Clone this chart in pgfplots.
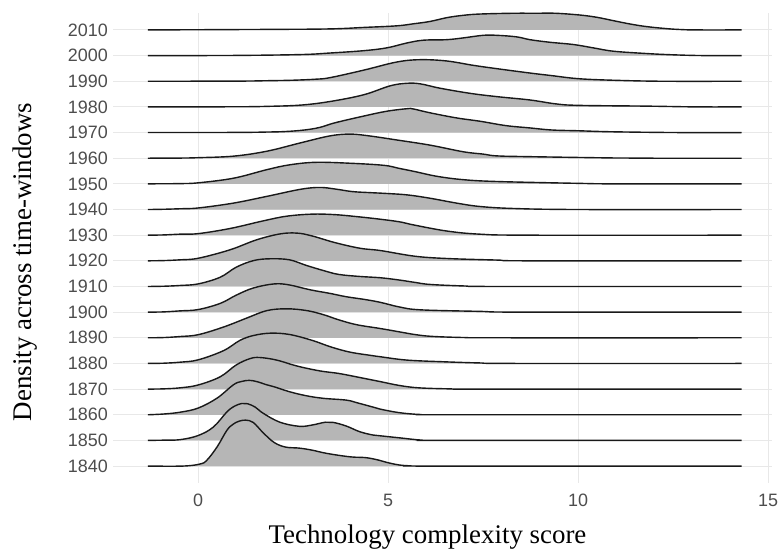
\documentclass[border=0pt]{standalone}
\usepackage{pgfplots}
\pgfplotsset{compat=1.18}
\usepackage{pgfplotstable}
\usepackage{fontspec}
\setmainfont{Liberation Sans}
\newfontfamily\titlefont{Liberation Serif}

\definecolor{ridgefill}{RGB}{182,182,182}
\definecolor{gridgray}{RGB}{232,232,232}
\definecolor{ticktext}{RGB}{77,77,77}

% density estimates per time window: x = complexity score, h = ridge height
\pgfplotstableread{
x h
-1.32 0
-0.4 0
0.05 0.08
0.23 0.23
0.5 0.75
0.76 1.4
0.93 1.64
1.08 1.75
1.25 1.79
1.45 1.7
1.71 1.3
2.0 0.92
2.3 0.74
2.66 0.7
3.0 0.62
3.4 0.49
4.0 0.36
4.4 0.33
4.7 0.25
5.0 0.13
5.3 0.04
5.6 0.01
6.2 0
14.3 0
}\tabA
\pgfplotstableread{
x h
-1.32 0
-0.9 0.01
-0.47 0.03
0 0.19
0.4 0.52
0.75 1.1
0.95 1.33
1.15 1.44
1.3 1.43
1.5 1.3
1.71 1.06
2.15 0.71
2.66 0.55
3.0 0.6
3.35 0.71
3.56 0.7
3.9 0.56
4.25 0.34
4.6 0.21
4.79 0.18
5.3 0.1
5.9 0.01
6.5 0
14.3 0
}\tabB
\pgfplotstableread{
x h
-1.32 0
-0.9 0.03
-0.47 0.1
0 0.26
0.5 0.65
0.93 1.17
1.15 1.3
1.35 1.34
1.55 1.29
1.8 1.17
2.0 1.09
2.4 0.9
2.85 0.74
3.3 0.64
3.9 0.57
4.2 0.46
4.6 0.3
4.79 0.22
5.3 0.08
5.85 0.01
6.5 0
14.3 0
}\tabC
\pgfplotstableread{
x h
-1.32 0
-0.9 0.01
-0.47 0.05
0 0.16
0.58 0.48
1.0 0.94
1.37 1.19
1.63 1.23
2.07 1.13
2.6 0.9
3.2 0.71
3.7 0.61
4.26 0.45
4.8 0.29
5.3 0.14
5.8 0.05
6.6 0.01
7.5 0
14.3 0
}\tabD
\pgfplotstableread{
x h
-1.32 0
-0.9 0.01
-0.47 0.05
0 0.14
0.67 0.5
1.1 0.9
1.46 1.09
1.9 1.18
2.4 1.13
3.0 0.9
3.5 0.64
4.0 0.44
4.56 0.31
4.8 0.26
5.5 0.13
6.55 0.06
7.4 0.02
8.3 0
14.3 0
}\tabE
\pgfplotstableread{
x h
-1.32 0
-0.9 0.01
-0.47 0.05
0 0.12
0.67 0.42
1.28 0.77
1.81 1.06
2.33 1.13
2.86 1.06
3.3 0.9
3.7 0.7
4.17 0.51
4.8 0.36
5.3 0.23
5.6 0.15
6.1 0.06
7.0 0.01
7.9 0
14.3 0
}\tabF
\pgfplotstableread{
x h
-1.32 0
-0.9 0.01
-0.47 0.05
0 0.1
0.58 0.34
1.0 0.66
1.45 0.94
2.0 1.1
2.4 1.06
2.95 0.87
3.47 0.73
3.9 0.6
4.4 0.49
4.8 0.38
5.3 0.2
5.85 0.09
7.4 0.03
8.5 0
14.3 0
}\tabG
\pgfplotstableread{
x h
-1.32 0
-0.9 0.01
-0.47 0.04
0 0.1
0.58 0.36
1.0 0.75
1.46 1.01
1.9 1.08
2.4 1.04
2.85 0.82
3.3 0.62
3.7 0.47
4.26 0.39
4.8 0.34
5.3 0.25
5.7 0.16
6.1 0.08
7.0 0.02
7.9 0
14.3 0
}\tabH
\pgfplotstableread{
x h
-1.32 0
-0.9 0.01
-0.47 0.04
0 0.1
0.84 0.43
1.54 0.82
2.16 1.05
2.6 1.08
3.0 0.97
3.6 0.71
4.26 0.49
4.8 0.4
5.7 0.18
6.55 0.09
7.86 0.03
8.7 0
14.3 0
}\tabI
\pgfplotstableread{
x h
-1.32 0
-0.9 0.01
-0.47 0.04
0 0.06
0.84 0.26
1.72 0.56
2.33 0.74
3.0 0.82
3.6 0.8
4.26 0.71
4.8 0.62
5.3 0.52
5.7 0.39
6.55 0.16
7.4 0.04
8.7 0
14.3 0
}\tabJ
\pgfplotstableread{
x h
-1.32 0
-0.9 0.01
-0.47 0.03
0 0.06
0.93 0.25
1.8 0.51
2.7 0.79
3.2 0.86
3.6 0.8
4.05 0.7
4.5 0.66
4.9 0.63
5.5 0.57
6.1 0.44
6.8 0.25
7.4 0.12
8.3 0.04
10 0
14.3 0
}\tabK
\pgfplotstableread{
x h
-1.32 0
-0.9 0.005
-0.47 0.01
0 0.04
0.93 0.22
1.8 0.55
2.4 0.74
3.1 0.84
4.05 0.8
4.9 0.72
5.3 0.6
5.7 0.48
6.3 0.29
7.0 0.16
7.9 0.09
10 0.02
11 0
14.3 0
}\tabL
\pgfplotstableread{
x h
-1.32 0
-0.5 0.005
0 0.02
0.93 0.08
1.8 0.27
2.7 0.6
3.47 0.87
4.0 0.94
4.5 0.87
5.23 0.71
6.1 0.51
6.98 0.25
7.5 0.16
7.86 0.09
8.73 0.06
10.9 0.01
12 0
14.3 0
}\tabM
\pgfplotstableread{
x h
-1.32 0
1.0 0.005
1.8 0.02
2.3 0.04
2.8 0.1
3.2 0.2
3.6 0.38
4.35 0.64
4.96 0.83
5.5 0.93
5.66 0.92
6.1 0.77
6.8 0.57
7.42 0.44
8.1 0.27
8.73 0.18
9.3 0.1
10.0 0.07
10.9 0.03
12.6 0
14.3 0
}\tabN
\pgfplotstableread{
x h
-1.32 0
1.0 0.005
1.8 0.02
2.7 0.07
3.47 0.21
4.35 0.47
5.05 0.82
5.49 0.92
5.84 0.9
6.36 0.73
7.15 0.53
7.86 0.4
8.73 0.27
9.4 0.12
10.0 0.06
11.8 0.03
13.1 0
14.3 0
}\tabO
\pgfplotstableread{
x h
-1.32 0
1.0 0.005
1.8 0.02
2.5 0.04
3.1 0.08
3.47 0.14
4.35 0.43
5.23 0.75
5.84 0.84
6.54 0.79
7.24 0.62
7.86 0.49
8.73 0.32
9.3 0.22
10.0 0.1
10.9 0.04
12.2 0
14.3 0
}\tabP
\pgfplotstableread{
x h
-1.32 0
0.9 0.005
2.7 0.04
3.47 0.1
4.35 0.19
4.96 0.3
5.49 0.49
5.93 0.6
6.54 0.62
6.98 0.69
7.5 0.79
7.86 0.79
8.38 0.73
8.73 0.62
9.25 0.52
9.88 0.43
10.4 0.3
10.93 0.17
11.8 0.08
12.5 0.03
13.3 0
14.3 0
}\tabQ
\pgfplotstableread{
x h
-1.32 0
1.8 0.02
3.47 0.04
4.4 0.1
5.23 0.16
5.67 0.24
6.1 0.33
6.55 0.48
6.98 0.57
7.42 0.62
8.3 0.65
8.9 0.65
9.4 0.65
10.05 0.58
10.5 0.49
10.93 0.36
11.37 0.23
11.8 0.13
12.33 0.05
12.7 0.015
13.1 0
14.3 0
}\tabR

% one ridge: grey area on its own baseline, then the outline on top
\newcommand{\ridge}[2]{%
  \addplot[fill=ridgefill, draw=none, smooth, tension=0.6]
    table[x=x, y expr=\thisrow{h}+#2] {#1} -- cycle;
  \addplot[draw=black!90, line width=1.4bp, smooth, tension=0.6]
    table[x=x, y expr=\thisrow{h}+#2] {#1};
}

\begin{document}
\begin{tikzpicture}
\begin{axis}[
  scale only axis,
  width=659bp, height=470bp,
  xmin=-2.24, xmax=15.1,
  ymin=-0.66, ymax=17.66,
  xtick={0,5,10,15},
  ytick={0,1,...,17},
  yticklabels={1840,1850,1860,1870,1880,1890,1900,1910,1920,1930,1940,1950,1960,1970,1980,1990,2000,2010},
  grid=major,
  major grid style={draw=gridgray, line width=0.9bp},
  axis line style={draw=none},
  major tick length=0pt,
  /pgf/number format/assume math mode=true,
  tick label style={font=\fontsize{18}{18}\selectfont, text=ticktext, inner sep=0pt},
  yticklabel style={anchor=east, xshift=-5bp},
  xticklabel style={anchor=north, yshift=-11bp},
  xlabel={Technology complexity score},
  ylabel={Density across time-windows},
  xlabel style={font=\titlefont\fontsize{27}{27}\selectfont, inner sep=0pt,
    at={(axis description cs:0.4772,-0.0893)}, anchor=north},
  ylabel style={font=\titlefont\fontsize{27}{27}\selectfont, inner sep=0pt,
    at={(axis description cs:-0.1153,0.4702)}, anchor=south},
]
\ridge{\tabR}{17}
\ridge{\tabQ}{16}
\ridge{\tabP}{15}
\ridge{\tabO}{14}
\ridge{\tabN}{13}
\ridge{\tabM}{12}
\ridge{\tabL}{11}
\ridge{\tabK}{10}
\ridge{\tabJ}{9}
\ridge{\tabI}{8}
\ridge{\tabH}{7}
\ridge{\tabG}{6}
\ridge{\tabF}{5}
\ridge{\tabE}{4}
\ridge{\tabD}{3}
\ridge{\tabC}{2}
\ridge{\tabB}{1}
\ridge{\tabA}{0}
\end{axis}
\pgfresetboundingbox
\path[use as bounding box]
  ([shift={(-113bp,-68bp)}]current axis.south west)
  rectangle ([shift={(666bp,483bp)}]current axis.south west);
\end{tikzpicture}
\end{document}
